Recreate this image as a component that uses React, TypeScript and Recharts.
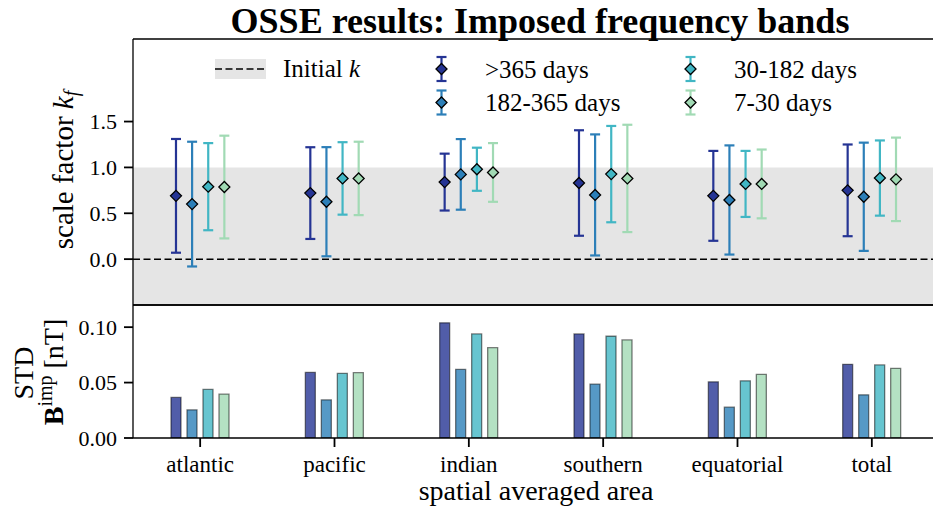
import React from "react";
import {
  ScatterChart,
  Scatter,
  BarChart,
  Bar,
  XAxis,
  YAxis,
  ErrorBar,
  ReferenceArea,
  ReferenceLine,
  Legend,
} from "recharts";

const areas = ["atlantic", "pacific", "indian", "southern", "equatorial", "total"];
const bands = [">365 days", "182-365 days", "30-182 days", "7-30 days"];
const colors = ["#253494", "#2c7fb8", "#41b6c4", "#a1dab4"];

// scale factor k_f (mean and error), one array per frequency band, in area order
const kLong = [0.69, 0.72, 0.84, 0.83, 0.69, 0.75];
const kLongErr = [0.62, 0.5, 0.31, 0.575, 0.49, 0.5];
const kYear = [0.6, 0.626, 0.924, 0.7, 0.645, 0.68];
const kYearErr = [0.68, 0.595, 0.385, 0.66, 0.595, 0.59];
const kMid = [0.79, 0.88, 0.98, 0.927, 0.82, 0.884];
const kMidErr = [0.475, 0.395, 0.235, 0.525, 0.36, 0.41];
const kShort = [0.786, 0.88, 0.945, 0.88, 0.82, 0.87];
const kShortErr = [0.56, 0.4, 0.32, 0.585, 0.375, 0.455];

// STD of B^imp [nT]
const stdLong = [0.0366, 0.0592, 0.1039, 0.0939, 0.0507, 0.0665];
const stdYear = [0.0254, 0.0344, 0.0619, 0.0486, 0.0278, 0.039];
const stdMid = [0.0438, 0.0583, 0.0939, 0.0918, 0.0516, 0.0659];
const stdShort = [0.0396, 0.0589, 0.0815, 0.0885, 0.0574, 0.0629];

const kTicks = [0, 0.5, 1, 1.5];
const stdTicks = [0, 0.05, 0.1];
const initialK = 0;
const shadeTop = 1.0;

// side-by-side placement of the four bands within one area (category units)
const bandOffsets = [-0.18, -0.06, 0.06, 0.18];

const font = "'Liberation Serif', serif";
const serif = { fontFamily: font };
const W = 960;
const margin = { left: 73, right: 21 };

const kSeries = [
  [kLong, kLongErr],
  [kYear, kYearErr],
  [kMid, kMidErr],
  [kShort, kShortErr],
].map(([vals, errs], j) =>
  areas.map((_, i) => ({ x: i + bandOffsets[j], y: vals[i], err: errs[i] }))
);

const stdRows = areas.map((area, i) => ({
  area,
  s0: stdLong[i],
  s1: stdYear[i],
  s2: stdMid[i],
  s3: stdShort[i],
}));

const axisLine = { stroke: "#000", strokeWidth: 1.3 };
const tickLine = { stroke: "#000", strokeWidth: 1.8 };

const Diamond = (props: any) => {
  const { cx, cy, fill } = props;
  const r = 5.5;
  return (
    <path
      d={`M${cx},${cy - r}L${cx + r},${cy}L${cx},${cy + r}L${cx - r},${cy}Z`}
      fill={fill}
      stroke="#000"
      strokeWidth={1.3}
    />
  );
};

const renderTitle = () => (
  <text x={540} y={32.5} textAnchor="middle" style={serif} fontSize={36} fontWeight="bold" fill="#000">
    OSSE results: Imposed frequency bands
  </text>
);

const renderKLabel = () => (
  <text
    x={73}
    y={170}
    transform="rotate(-90, 73, 170)"
    textAnchor="middle"
    style={serif}
    fontSize={29}
    fill="#000"
  >
    scale factor <tspan fontStyle="italic">k</tspan>
    <tspan fontStyle="italic" fontSize={20} dy={5}>f</tspan>
  </text>
);

const renderStdLabel = () => (
  <g style={serif} fill="#000">
    <text x={33} y={373} transform="rotate(-90, 33, 373)" textAnchor="middle" fontSize={28} style={serif}>
      STD
    </text>
    <text x={63} y={372} transform="rotate(-90, 63, 372)" textAnchor="middle" fontSize={28} style={serif}>
      <tspan fontWeight="bold">B</tspan>
      <tspan fontSize={20} dy={-11}>imp</tspan>
      <tspan dy={11}> [nT]</tspan>
    </text>
  </g>
);

const renderXLabel = () => (
  <text x={536} y={500} textAnchor="middle" style={serif} fontSize={28} fill="#000">
    spatial averaged area
  </text>
);

const LegendMark = ({ x, y, color }: { x: number; y: number; color: string }) => (
  <g>
    <line x1={x} y1={y - 12} x2={x} y2={y + 12} stroke={color} strokeWidth={2.2} />
    <line x1={x - 5} y1={y - 12} x2={x + 5} y2={y - 12} stroke={color} strokeWidth={2.2} />
    <line x1={x - 5} y1={y + 12} x2={x + 5} y2={y + 12} stroke={color} strokeWidth={2.2} />
    <Diamond cx={x} cy={y} fill={color} />
  </g>
);

const renderLegend = () => {
  const cols = [441.5, 690.5];
  const rows = [69, 102.5];
  return (
    <svg width={933} height={130} style={{ display: "block", fontFamily: font }}>
      <rect x={215} y={59} width={51} height={20} fill="#e5e5e5" />
      <line x1={215} y1={69} x2={266} y2={69} stroke="#000" strokeWidth={1.5} strokeDasharray="7 3.5" />
      <text x={283} y={77} style={serif} fontSize={25} fill="#000">
        Initial <tspan fontStyle="italic">k</tspan>
      </text>
      {bands.map((b, j) => {
        const cx = cols[Math.floor(j / 2)];
        const cy = rows[j % 2];
        return (
          <g key={b}>
            <LegendMark x={cx} y={cy} color={colors[j]} />
            <text x={cx + 43.5} y={cy + 8.5} style={serif} fontSize={25} fill="#000">
              {b}
            </text>
          </g>
        );
      })}
    </svg>
  );
};

export default function App() {
  return (
    <div
      style={{
        position: "fixed",
        left: 0,
        top: 0,
        width: 933,
        height: 509,
        overflow: "hidden",
        background: "#fff",
        fontFamily: font,
      }}
    >
      <div style={{ position: "absolute", left: 0, top: 0 }}>
        <ScatterChart width={W} height={315} margin={{ top: 38, bottom: 0, ...margin }}>
          <ReferenceArea y1={-0.5} y2={shadeTop} fill="#e5e5e5" fillOpacity={1} stroke="none" ifOverflow="hidden" />
          <ReferenceLine y={initialK} stroke="#000" strokeWidth={1.5} strokeDasharray="7 3.5" />
          <XAxis
            type="number"
            dataKey="x"
            domain={[-0.5, 5.5]}
            ticks={[0, 1, 2, 3, 4, 5]}
            interval={0}
            allowDataOverflow
            tick={false}
            tickSize={9}
            height={10}
            axisLine={axisLine}
            tickLine={tickLine}
          />
          <XAxis
            xAxisId="top"
            orientation="top"
            type="number"
            dataKey="x"
            domain={[-0.5, 5.5]}
            ticks={[0, 1, 2, 3, 4, 5]}
            allowDataOverflow
            tick={false}
            tickLine={false}
            height={1}
            axisLine={axisLine}
            label={renderTitle}
          />
          <YAxis
            type="number"
            dataKey="y"
            domain={[-0.5, 2.4]}
            ticks={kTicks}
            interval={0}
            allowDataOverflow
            tickFormatter={(v: number) => v.toFixed(1)}
            width={60}
            tickSize={9}
            tickMargin={7}
            tick={{ fontSize: 22, fill: "#000", fontFamily: font }}
            axisLine={axisLine}
            tickLine={tickLine}
            label={renderKLabel}
          />
          {kSeries.map((data, j) => (
            <Scatter
              key={bands[j]}
              name={bands[j]}
              data={data}
              fill={colors[j]}
              shape={Diamond}
              isAnimationActive={false}
            >
              <ErrorBar dataKey="err" direction="y" width={5} stroke={colors[j]} strokeWidth={2.2} />
            </Scatter>
          ))}
          <Legend
            content={renderLegend}
            layout="horizontal"
            verticalAlign="middle"
            align="center"
            wrapperStyle={{ left: 0, top: 0, width: 933, height: 130 }}
          />
        </ScatterChart>
      </div>
      <div style={{ position: "absolute", left: 0, top: 0 }}>
        <BarChart
          width={W}
          height={509}
          data={stdRows}
          margin={{ top: 304, bottom: 41, ...margin }}
          barSize={10}
          barGap={6}
        >
          <XAxis
            dataKey="area"
            interval={0}
            tickSize={9}
            tickMargin={9}
            height={30}
            tick={{ fontSize: 23, fill: "#000", fontFamily: font }}
            axisLine={axisLine}
            tickLine={tickLine}
            label={renderXLabel}
          />
          <XAxis
            xAxisId="top"
            orientation="top"
            dataKey="area"
            height={1}
            tick={false}
            tickLine={false}
            axisLine={axisLine}
          />
          <YAxis
            type="number"
            domain={[0, 0.12]}
            ticks={stdTicks}
            interval={0}
            allowDataOverflow
            tickFormatter={(v: number) => v.toFixed(2)}
            width={60}
            tickSize={9}
            tickMargin={7}
            tick={{ fontSize: 22, fill: "#000", fontFamily: font }}
            axisLine={axisLine}
            tickLine={tickLine}
            label={renderStdLabel}
          />
          {bands.map((b, j) => (
            <Bar
              key={b}
              dataKey={`s${j}`}
              name={b}
              fill={colors[j]}
              fillOpacity={0.8}
              stroke="#000"
              strokeOpacity={0.5}
              strokeWidth={1.3}
              isAnimationActive={false}
            />
          ))}
        </BarChart>
      </div>
    </div>
  );
}
